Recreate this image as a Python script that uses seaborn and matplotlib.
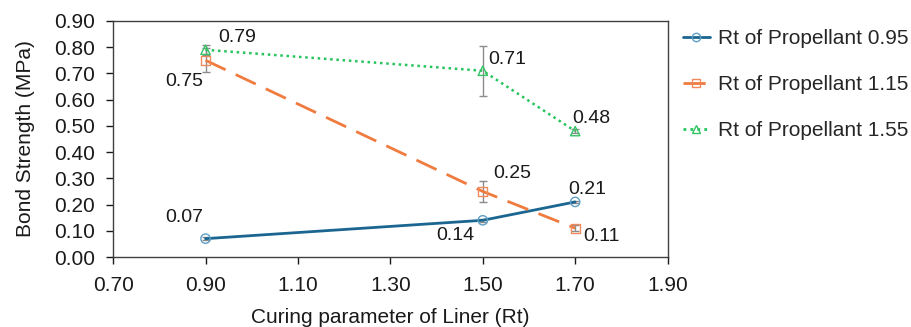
import pandas as pd
import matplotlib
matplotlib.use("Agg")
import matplotlib.pyplot as plt
import seaborn as sns

# data
liner_rt = [0.90, 1.50, 1.70]
series_names = ["Rt of Propellant 0.95", "Rt of Propellant 1.15", "Rt of Propellant 1.55"]
strength_095 = [0.07, 0.14, 0.21]
strength_115 = [0.75, 0.25, 0.11]
strength_155 = [0.79, 0.71, 0.48]
err_095 = [0.005, 0.005, 0.005]
err_115 = [0.045, 0.04, 0.012]
err_155 = [0.02, 0.095, 0.008]

rows = []
for name, vals, errs in zip(series_names, [strength_095, strength_115, strength_155],
                            [err_095, err_115, err_155]):
    for x, v, e in zip(liner_rt, vals, errs):
        rows.append({"rt": x, "strength": v, "err": e, "series": name})
df = pd.DataFrame(rows)

sns.set_style("white")
plt.rcParams['font.family'] = ['Liberation Sans', 'DejaVu Sans']

line_colors = ["#1b6690", "#f07b3f", "#25c45c"]
marker_edges = ["#5f9fc6", "#f08a5a", "#35c465"]
markers = ["o", "s", "^"]
dashes = [(None, None), (8, 4), (1, 1.5)]

fig = plt.figure(figsize=(9.12, 3.27), dpi=100)
ax = fig.add_axes([0.124, 0.214, 0.608, 0.722])

handles = []
for i, name in enumerate(series_names):
    sub = df[df.series == name]
    ax.errorbar(sub.rt, sub.strength, yerr=sub.err, fmt="none", ecolor="#8c8c8c",
                elinewidth=1, capsize=3, capthick=1, zorder=2)
    sns.lineplot(data=sub, x="rt", y="strength", ax=ax, color=line_colors[i],
                 linewidth=2 if i < 2 else 1.8, zorder=3, legend=False)
    ln = ax.lines[-1]
    if dashes[i][0] is not None:
        ln.set_dashes(dashes[i])
    ax.scatter(sub.rt, sub.strength, marker=markers[i], s=45, facecolors="none",
               edgecolors=marker_edges[i], linewidths=1, zorder=4)
    h, = ax.plot([], [], color=line_colors[i], marker=markers[i], markerfacecolor="none",
                 markeredgecolor=marker_edges[i], markersize=6, linewidth=2)
    if dashes[i][0] is not None:
        h.set_dashes(dashes[i])
    handles.append(h)

# value labels: (dx, dy) in points, horizontal alignment
offsets = {
    ("Rt of Propellant 0.95", 0.90): (-1.5, 15, "right"),
    ("Rt of Propellant 0.95", 1.50): (-6, -11, "right"),
    ("Rt of Propellant 0.95", 1.70): (-5, 9, "left"),
    ("Rt of Propellant 1.15", 0.90): (-1.5, -15, "right"),
    ("Rt of Propellant 1.15", 1.50): (7.5, 13, "left"),
    ("Rt of Propellant 1.15", 1.70): (6, -6, "left"),
    ("Rt of Propellant 1.55", 0.90): (9, 9, "left"),
    ("Rt of Propellant 1.55", 1.50): (4, 8, "left"),
    ("Rt of Propellant 1.55", 1.70): (-2, 9, "left"),
}
for _, r in df.iterrows():
    dx, dy, ha = offsets[(r.series, r.rt)]
    ax.annotate(f"{r.strength:.2f}", (r.rt, r.strength), xytext=(dx, dy),
                textcoords="offset points", fontsize=14, color="#1a1a1a",
                ha=ha, va="center")

ax.set_xlim(0.70, 1.90)
ax.set_ylim(0.0, 0.90)
ax.set_xticks([0.70, 0.90, 1.10, 1.30, 1.50, 1.70, 1.90])
ax.set_yticks([i / 10 for i in range(10)])
ax.xaxis.set_major_formatter(matplotlib.ticker.FormatStrFormatter("%.2f"))
ax.yaxis.set_major_formatter(matplotlib.ticker.FormatStrFormatter("%.2f"))
ax.tick_params(axis="both", labelsize=15, colors="#1a1a1a", direction="out",
               length=5, width=1, bottom=True, left=True)
ax.tick_params(axis="x", pad=9)
ax.tick_params(axis="y", pad=8)
for sp in ax.spines.values():
    sp.set_color("#404040")
    sp.set_linewidth(1)
ax.set_xlabel("Curing parameter of Liner (Rt)", fontsize=15, color="#1a1a1a", labelpad=9)
ax.set_ylabel("Bond Strength (MPa)", fontsize=15, color="#1a1a1a", labelpad=14)

ax.legend(handles, series_names, loc="upper left", bbox_to_anchor=(1.0126, 1.0),
          frameon=False, fontsize=15, handlelength=1.3, handletextpad=0.4,
          labelspacing=1.3, borderaxespad=0)

fig.savefig("out.png", dpi=100)
